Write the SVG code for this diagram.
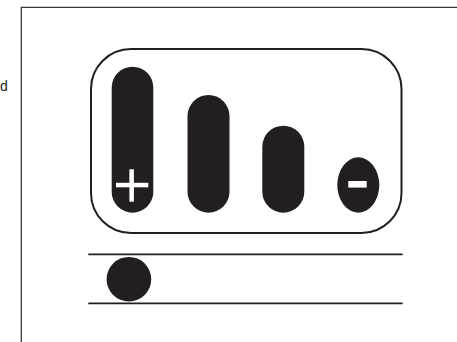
<svg xmlns="http://www.w3.org/2000/svg" width="457" height="342" viewBox="0 0 457 342">
  <style>
    .frame { fill: none; stroke: #3a3a3a; stroke-width: 1.3; }
    .outline { fill: none; stroke: #231f20; stroke-width: 2; }
    .ink { fill: #231f20; }
    .white { fill: #ffffff; }
    .rule { stroke: #231f20; stroke-width: 1.8; }
    .label { font-family: "Liberation Sans", Arial, sans-serif; font-size: 14px; fill: #231f20; }
  </style>
  <rect width="457" height="342" fill="#ffffff"/>
  <text class="label" x="0" y="91">d</text>
  <polyline class="frame" points="21.3,342 21.3,7.3 457,7.3"/>
  <g id="panel">
    <rect class="outline" x="91" y="49" width="310.5" height="184" rx="40" ry="40"/>
  </g>
  <g id="bar1">
    <rect class="ink" x="111.7" y="66.7" width="41.6" height="146" rx="20.8" ry="20.8"/>
    <rect class="white" x="116" y="182.8" width="32.3" height="4.5"/>
    <rect class="white" x="129.4" y="169.3" width="4.5" height="32.4"/>
  </g>
  <g id="bar2">
    <rect class="ink" x="187.5" y="95" width="42" height="117.7" rx="21" ry="21"/>
  </g>
  <g id="bar3">
    <rect class="ink" x="262.3" y="125.7" width="42" height="87" rx="21" ry="21"/>
  </g>
  <g id="bar4">
    <ellipse class="ink" cx="358.3" cy="185" rx="21" ry="27.7"/>
    <rect class="white" x="348.3" y="181" width="18.4" height="6.6"/>
  </g>
  <g id="track">
    <line class="rule" x1="88.3" y1="254.3" x2="402.7" y2="254.3"/>
    <line class="rule" x1="88.3" y1="303.3" x2="402.7" y2="303.3"/>
  </g>
  <g id="ball">
    <circle class="ink" cx="128.9" cy="279.2" r="22.3"/>
  </g>
</svg>
